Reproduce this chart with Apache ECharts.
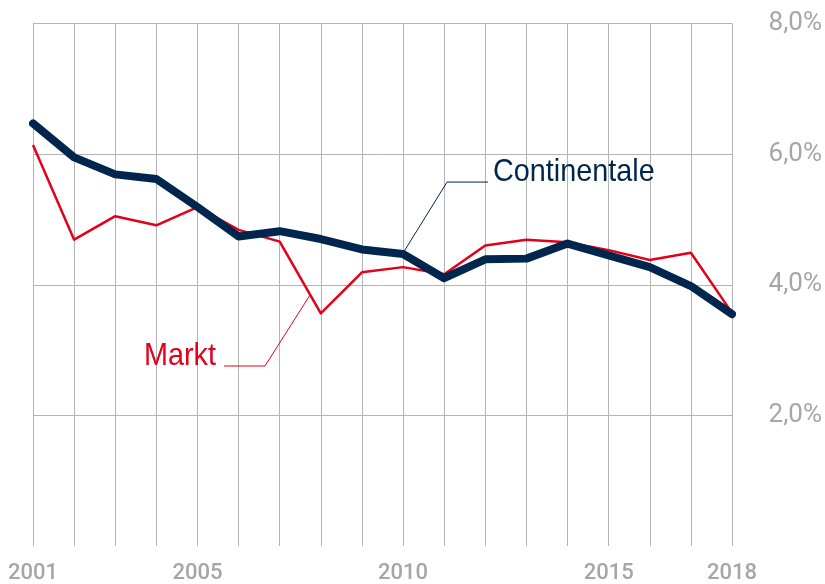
<!DOCTYPE html>
<html>
<head>
<meta charset="utf-8">
<script src="https://cdn.jsdelivr.net/npm/echarts@6/dist/echarts.min.js"></script>
<style>
  html, body { margin: 0; padding: 0; background: #fff; }
  #chart { width: 825px; height: 584px; }
</style>
</head>
<body>
<div id="chart"></div>
<script>
// Jahre und Werte (in %)
const years = ["2001", "2002", "2003", "2004", "2005", "2006", "2007", "2008", "2009",
  "2010", "2011", "2012", "2013", "2014", "2015", "2016", "2017", "2018"];
const markt = [6.14, 4.69, 5.05, 4.91, 5.19, 4.84, 4.66, 3.56, 4.19,
  4.27, 4.16, 4.60, 4.69, 4.65, 4.53, 4.38, 4.49, 3.57];
const continentale = [6.47, 5.95, 5.69, 5.62, 5.19, 4.74, 4.82, 4.70, 4.54,
  4.47, 4.10, 4.39, 4.40, 4.63, 4.45, 4.27, 3.98, 3.55];
const shownYears = ["2001", "2005", "2010", "2015", "2018"];
const yTicks = [2, 4, 6, 8];

const NAVY = "#00264d";
const RED = "#e2001a";
const GRID = "#b4b4b4";
const LABEL = "#a6a6a6";

let chart = echarts.init(document.getElementById("chart"));

chart.setOption({
  animation: false,
  grid: {
    left: 33,
    right: 93,
    top: 23.5,
    bottom: 38,
    outerBoundsMode: "none"
  },
  xAxis: {
    type: "category",
    data: years,
    boundaryGap: false,
    axisLine: { show: false },
    axisTick: { show: false },
    axisLabel: {
      interval: (i, v) => shownYears.indexOf(v) >= 0,
      color: LABEL,
      fontFamily: "Roboto",
      fontWeight: 500,
      fontSize: 22,
      margin: 16
    },
    splitLine: {
      show: true,
      interval: 0,
      lineStyle: { color: GRID, width: 1 }
    }
  },
  yAxis: {
    type: "value",
    position: "right",
    min: 0,
    max: 8,
    interval: 2,
    axisLine: { show: false },
    axisTick: { show: false },
    axisLabel: {
      showMinLabel: false,
      color: LABEL,
      fontFamily: "Roboto",
      fontSize: 26,
      margin: 90,
      align: "right",
      formatter: v => (yTicks.indexOf(v) >= 0 ? v.toFixed(1).replace(".", ",") + "%" : "")
    },
    splitLine: {
      show: true,
      showMinLine: false,
      lineStyle: { color: GRID, width: 1 }
    }
  },
  series: [
    {
      name: "Markt",
      type: "line",
      data: markt,
      symbol: "none",
      lineStyle: { color: RED, width: 2.5, join: "round" },
      z: 2
    },
    {
      name: "Continentale",
      type: "line",
      data: continentale,
      symbol: "none",
      lineStyle: { color: NAVY, width: 8, cap: "round", join: "round" },
      z: 3
    }
  ]
});

// Beschriftungen mit Hinweislinien
let pC = chart.convertToPixel({ seriesIndex: 1 }, [9, continentale[9]]);
let p7 = chart.convertToPixel({ seriesIndex: 0 }, [6, markt[6]]);
let p8 = chart.convertToPixel({ seriesIndex: 0 }, [7, markt[7]]);
let t = 0.74;
let pM = [p7[0] + (p8[0] - p7[0]) * t, p7[1] + (p8[1] - p7[1]) * t];

chart.setOption({
  graphic: [
    {
      type: "polyline",
      shape: { points: [[pC[0], pC[1] - 1], [pC[0] + 44, pC[1] - 72], [pC[0] + 85, pC[1] - 72]] },
      style: { stroke: NAVY, lineWidth: 1, fill: null },
      z: 10
    },
    {
      type: "text",
      x: 493,
      y: 172,
      scaleX: 0.9,
      style: {
        x: 0, y: 0,
        text: "Continentale",
        fill: NAVY,
        font: "32px 'Liberation Sans', Arial, sans-serif",
        textAlign: "left",
        textVerticalAlign: "middle"
      },
      z: 10
    },
    {
      type: "polyline",
      shape: { points: [[pM[0], pM[1]], [265, 366], [224, 366]] },
      style: { stroke: RED, lineWidth: 1, fill: null },
      z: 10
    },
    {
      type: "text",
      x: 144,
      y: 356,
      scaleX: 0.9,
      style: {
        x: 0, y: 0,
        text: "Markt",
        fill: RED,
        font: "32px 'Liberation Sans', Arial, sans-serif",
        textAlign: "left",
        textVerticalAlign: "middle"
      },
      z: 10
    }
  ]
});
</script>
</body>
</html>
